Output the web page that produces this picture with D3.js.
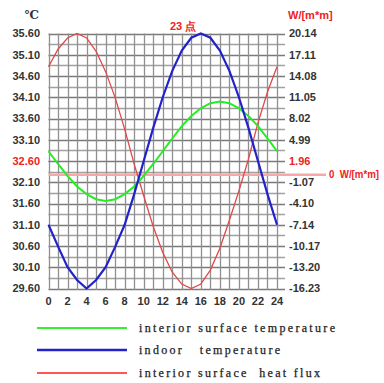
<!DOCTYPE html>
<html lang="en">
<head>
  <meta charset="UTF-8" />
  <title>23 点 temperature / heat flux</title>
  <script src="https://d3js.org/d3.v7.min.js"></script>
  <style>
    body { margin: 0; background: #fff; }
    svg { display: block; }
    text.ax { font-family: "Liberation Sans", Arial, sans-serif; font-size: 11px; font-weight: bold; fill: #333; }
    text.red { fill: #ee2222; }
    text.leg { font-family: "Liberation Serif", "DejaVu Serif", serif; font-size: 12px; fill: #222; stroke: #222; stroke-width: 0.25; }
  </style>
</head>
<body>
  <svg id="chart" width="384" height="383"></svg>
  <script>
    const hours = d3.range(0, 25);
    const hourLabels = ["0", "2", "4", "6", "8", "10", "12", "14", "16", "18", "20", "22", "24"];
    const tempLabels = ["35.60", "35.10", "34.60", "34.10", "33.60", "33.10", "32.60", "32.10", "31.60", "31.10", "30.60", "30.10", "29.60"];
    const fluxLabels = ["20.14", "17.11", "14.08", "11.05", "8.02", "4.99", "1.96", "-1.07", "-4.10", "-7.14", "-10.17", "-13.20", "-16.23"];

    // hourly values
    const surfaceTemp = [32.83, 32.53, 32.25, 32.00, 31.82, 31.70, 31.66, 31.70, 31.82, 32.00, 32.25, 32.53, 32.83,
                         33.13, 33.42, 33.66, 33.84, 33.96, 34.00, 33.96, 33.84, 33.66, 33.42, 33.13, 32.83];
    const indoorTemp = [31.10, 30.59, 30.10, 29.80, 29.60, 29.80, 30.10, 30.58, 31.10, 31.82, 32.60, 33.38, 34.10,
                        34.72, 35.20, 35.50, 35.60, 35.50, 35.20, 34.72, 34.10, 33.38, 32.60, 31.82, 31.10];
    const heatFlux = [15.4, 17.9, 19.5, 20.14, 19.5, 17.6, 14.7, 11.0, 6.5, 1.5, -3.0, -7.4, -11.1,
                      -13.9, -15.6, -16.23, -15.6, -13.6, -10.5, -6.5, -2.3, 2.2, 7.4, 11.8, 15.4];

    const legendItems = [
      { name: "interior surface temperature", color: "#33ee33", width: 2, len: 196 },
      { name: "indoor   temperature", color: "#2222cc", width: 2.5, len: 141 },
      { name: "interior surface  heat flux", color: "#ff5555", width: 2, len: 181 }
    ];

    const svg = d3.select("#chart");
    const x = d3.scaleLinear().domain([0, 24]).range([48.5, 277]);
    const yT = d3.scaleLinear().domain([29.6, 35.6]).range([288.5, 33.5]);
    const yW = d3.scaleLinear().domain([-16.23, 20.14]).range([288.5, 33.5]);

    // grid
    const grid = svg.append("g");
    const hLines = d3.range(0, 25).map(i => 29.6 + i * 0.25);
    grid.selectAll("line.h")
      .data(hLines)
      .join("line")
      .attr("x1", x(0)).attr("x2", 285)
      .attr("y1", d => Math.round(yT(d)) + 0.5)
      .attr("y2", d => Math.round(yT(d)) + 0.5)
      .attr("stroke", (d, i) => i % 2 === 0 ? "#7a7a7a" : "#a0a0a0")
      .attr("stroke-width", 1.3);
    grid.selectAll("line.v")
      .data(hours)
      .join("line")
      .attr("x1", d => Math.round(x(d)) + 0.5)
      .attr("x2", d => Math.round(x(d)) + 0.5)
      .attr("y1", yT(35.6)).attr("y2", 290)
      .attr("stroke", "#909090")
      .attr("stroke-width", 1.3);

    // reference lines
    svg.append("line")
      .attr("x1", x(0)).attr("x2", 326)
      .attr("y1", yW(0)).attr("y2", yW(0))
      .attr("stroke", "#f6a8a8").attr("stroke-width", 2.5);
    svg.append("line")
      .attr("x1", x(0)).attr("x2", 285)
      .attr("y1", yT(32.6) + 0.5).attr("y2", yT(32.6) + 0.5)
      .attr("stroke", "#ff4444").attr("stroke-width", 1);

    // axis labels
    svg.append("g").selectAll("text")
      .data(tempLabels)
      .join("text")
      .attr("class", d => d === "32.60" ? "ax red" : "ax")
      .attr("x", 40)
      .attr("y", d => yT(+d))
      .attr("dy", "0.35em")
      .attr("text-anchor", "end")
      .text(d => d);

    svg.append("g").selectAll("text")
      .data(fluxLabels)
      .join("text")
      .attr("class", d => d === "1.96" ? "ax red" : "ax")
      .attr("x", 289)
      .attr("y", (d, i) => yT(+tempLabels[i]))
      .attr("dy", "0.35em")
      .text(d => d);

    svg.append("g").selectAll("text")
      .data(hourLabels)
      .join("text")
      .attr("class", "ax")
      .attr("x", d => x(+d))
      .attr("y", 304.5)
      .attr("text-anchor", "middle")
      .text(d => d);

    svg.append("text").attr("class", "ax").attr("x", 32).attr("y", 19)
      .attr("text-anchor", "middle").style("font-family", "'DejaVu Serif', serif").style("font-size", "12px").text("℃");
    svg.append("text").attr("class", "ax red").attr("x", 288).attr("y", 19).text("W/[m*m]");
    svg.append("text").attr("class", "ax red").attr("x", 170).attr("y", 30).text("23 点");
    svg.append("text").attr("class", "ax red").attr("x", 329).attr("y", yW(0)).attr("dy", "0.35em")
      .attr("xml:space", "preserve")
      .style("font-size", "10px")
      .attr("textLength", 50).attr("lengthAdjust", "spacingAndGlyphs")
      .text("0  W/[m*m]");

    // curves
    const lineT = d3.line().x((d, i) => x(hours[i])).y(d => yT(d));
    const lineW = d3.line().x((d, i) => x(hours[i])).y(d => yW(d));

    svg.append("path").datum(heatFlux)
      .attr("d", lineW).attr("fill", "none")
      .attr("stroke", "#e04848").attr("stroke-width", 1.3);
    svg.append("path").datum(surfaceTemp)
      .attr("d", lineT).attr("fill", "none")
      .attr("stroke", "#22ee22").attr("stroke-width", 2);
    svg.append("path").datum(indoorTemp)
      .attr("d", lineT).attr("fill", "none")
      .attr("stroke", "#2222cc").attr("stroke-width", 2.2);

    // legend
    const legY = [328, 350, 373];
    const leg = svg.append("g");
    leg.selectAll("line")
      .data(legendItems)
      .join("line")
      .attr("x1", 37).attr("x2", 127)
      .attr("y1", (d, i) => legY[i]).attr("y2", (d, i) => legY[i])
      .attr("stroke", d => d.color)
      .attr("stroke-width", d => d.width);
    leg.selectAll("text")
      .data(legendItems)
      .join("text")
      .attr("class", "leg")
      .attr("x", 139)
      .attr("y", (d, i) => legY[i] + 4)
      .attr("xml:space", "preserve")
      .attr("textLength", d => d.len)
      .attr("lengthAdjust", "spacing")
      .text(d => d.name);
  </script>
</body>
</html>
